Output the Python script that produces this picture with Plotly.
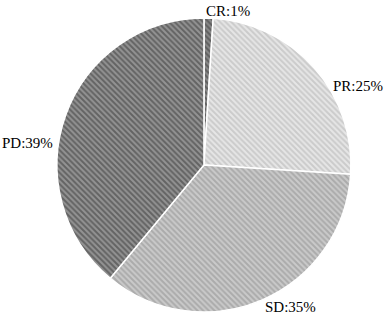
import plotly.graph_objects as go

labels = ["CR", "PR", "SD", "PD"]
values = [1, 25, 35, 39]
pct_text = ["1%", "25%", "35%", "39%"]

bg_colors = ["#8a8a8a", "#e6e6e6", "#cacaca", "#939393"]
fg_colors = ["#333333", "#b0b0b0", "#8c8c8c", "#343434"]

W, H = 387, 322
ML, MR, MT, MB = 0, 0, 18, 10

fig = go.Figure(go.Pie(
    labels=labels,
    values=values,
    text=pct_text,
    sort=False,
    direction="clockwise",
    rotation=0,
    textinfo="none",
    marker=dict(
        colors=bg_colors,
        line=dict(color="#ffffff", width=1.5),
        pattern=dict(shape="\\", fgcolor=fg_colors, bgcolor=bg_colors,
                     size=4, solidity=0.5, fillmode="overlay"),
    ),
    domain=dict(x=[0.054, 1.0], y=[0, 1]),
    showlegend=False,
    hoverinfo="label+percent",
))

# label anchor positions in window pixels (layout only)
label_px = [(228, 11), (358, 86), (290, 307), (28, 143)]
pw, ph = W - ML - MR, H - MT - MB
annotations = []
for lab, txt, (px, py) in zip(labels, pct_text, label_px):
    annotations.append(dict(
        text=f"{lab}:{txt}", xref="paper", yref="paper",
        x=(px - ML) / pw, y=(H - MB - py) / ph,
        xanchor="center", yanchor="middle", showarrow=False,
        font=dict(family="Liberation Serif", size=15, color="#000000"),
    ))

fig.update_layout(
    width=W, height=H,
    margin=dict(l=ML, r=MR, t=MT, b=MB),
    paper_bgcolor="#ffffff",
    plot_bgcolor="#ffffff",
    annotations=annotations,
)

fig.write_html(
    "out.html",
    config={"displayModeBar": False},
    post_script="document.body.style.margin='0';document.body.style.overflow='hidden';",
)
